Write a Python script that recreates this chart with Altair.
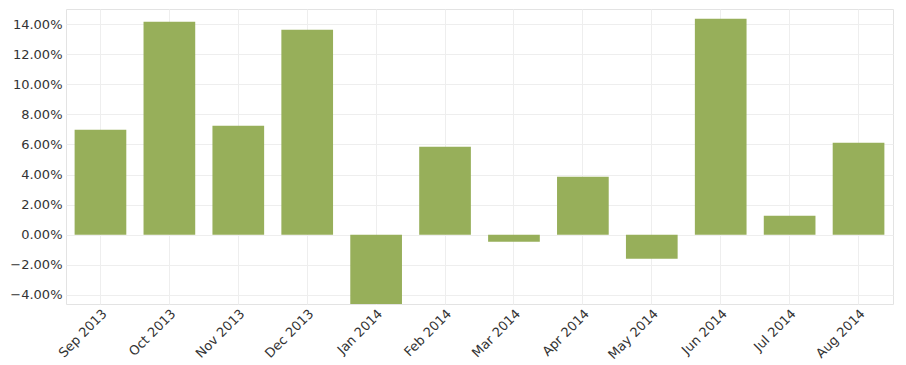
import altair as alt
import pandas as pd

months = ["Sep 2013", "Oct 2013", "Nov 2013", "Dec 2013", "Jan 2014", "Feb 2014",
          "Mar 2014", "Apr 2014", "May 2014", "Jun 2014", "Jul 2014", "Aug 2014"]
returns = [6.98, 14.15, 7.24, 13.62, -5.6, 5.85, -0.47, 3.85, -1.6, 14.35, 1.26, 6.11]
y_ticks = [-4, -2, 0, 2, 4, 6, 8, 10, 12, 14]

df = pd.DataFrame({"month": months, "ret": returns})

chart = alt.Chart(df).mark_bar(color="#97AF5A", clip=True).encode(
    x=alt.X("month:N", sort=months, title=None,
            scale=alt.Scale(paddingInner=0.25, paddingOuter=0.125),
            axis=alt.Axis(labelAngle=-45, labelAlign="right", labelBaseline="top",
                          labelFont="DejaVu Sans", labelFontSize=13, labelColor="#333333",
                          ticks=False, domain=False, grid=True, gridColor="#eeeeee",
                          labelPadding=3, labelOverlap=False, bandPosition=0.5)),
    y=alt.Y("ret:Q", title=None,
            scale=alt.Scale(domain=[-4.6, 15.0], nice=False, zero=False),
            axis=alt.Axis(values=y_ticks, labelExpr="format(datum.value, '.2f') + '%'",
                          labelFont="DejaVu Sans", labelFontSize=13, labelColor="#333333",
                          ticks=False, domain=False, gridColor="#eeeeee", labelPadding=4)),
).properties(
    width=827, height=295,
    autosize=alt.AutoSizeParams(type="none"),
    padding={"left": 58, "top": 1, "right": 5, "bottom": 59},
).configure_view(stroke="#e3e3e3")

chart.save("out.html", embed_options={"renderer": "svg", "actions": False})
